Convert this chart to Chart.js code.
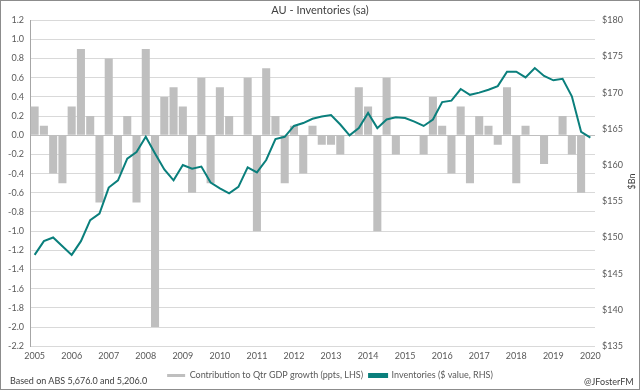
<!DOCTYPE html>
<html>
<head>
<meta charset="utf-8">
<script src="https://cdn.jsdelivr.net/npm/chart.js@4/dist/chart.umd.min.js"></script>
<style>
    html, body { margin: 0; padding: 0; background: #fff; }
    #wrap { position: relative; width: 640px; height: 390px; font-family: Lato, sans-serif; }
    #chart { position: absolute; left: 0; top: 0; }
    #frame { position: absolute; left: 0; top: 0; width: 640px; height: 390px; box-sizing: border-box; border: 1px solid #8c8c8c; pointer-events: none; }
    .note { position: absolute; font-size: 9px; color: #404040; white-space: nowrap; }
    #units { position: absolute; left: 621px; top: 176px; width: 20px; text-align: center; font-size: 9px; color: #404040; transform: rotate(-90deg); }
</style>
</head>
<body>
<div id="wrap">
    <canvas id="chart" width="640" height="390"></canvas>
    <div id="frame"></div>
    <div class="note" style="left:10px; top:375px;">Based on ABS 5,676.0 and 5,206.0</div>
    <div class="note" style="left:584px; top:376px;">@JFosterFM</div>
    <div id="units">$Bn</div>
</div>
<script>
// quarters, Mar-2005 .. Mar-2020
const years = ['2005', '2006', '2007', '2008', '2009', '2010', '2011', '2012', '2013', '2014',
    '2015', '2016', '2017', '2018', '2019', '2020'];
const quarters = [];
years.forEach(function (y) {
    ['Q1', 'Q2', 'Q3', 'Q4'].forEach(function (q) {
        if (y !== '2020' || q === 'Q1') quarters.push(y + q);
    });
});

// contribution to quarterly GDP growth, ppts (LHS)
const contribution = [
    0.3, 0.1, -0.4, -0.5, 0.3, 0.9, 0.2, -0.7, 0.8, -0.4, 0.2, -0.7,
    0.9, -2.0, 0.4, 0.5, 0.3, -0.6, 0.6, -0.5, 0.5, 0.2, 0, 0.6,
    -1.0, 0.7, 0.2, -0.5, 0.1, -0.4, 0.1, -0.1, -0.1, -0.2, 0, 0.5,
    0.3, -1.0, 0.6, -0.2, 0, 0, -0.2, 0.4, 0.1, -0.4, 0.3, -0.5,
    0.2, 0.1, -0.1, 0.5, -0.5, 0.1, 0, -0.3, 0, 0.2, -0.2, -0.6,
    null
];

// inventories, $bn (RHS)
const inventories = [
    147.6, 149.5, 150.0, 148.8, 147.6, 149.5, 152.4, 153.3, 156.9, 157.9, 160.9, 161.8,
    163.9, 161.6, 159.4, 157.9, 160.0, 159.5, 159.8, 157.6, 156.8, 156.1, 157.0, 159.7,
    159.0, 160.7, 163.6, 163.9, 165.4, 165.8, 166.4, 166.7, 166.9, 165.6, 164.1, 165.1,
    167.2, 165.1, 166.3, 166.6, 166.5, 166.0, 165.4, 166.3, 168.7, 168.9, 170.5, 169.7,
    170.0, 170.4, 170.9, 172.9, 172.9, 172.1, 173.4, 172.3, 171.7, 171.9, 169.5, 164.6,
    163.8
];

const textColor = '#595959';
const tickFont = { family: 'Lato', size: 9 };

// legend sits a little right of centre in the original
const legendShift = {
    id: 'legendShift',
    afterLayout: function (chart) {
        if (chart.legend) {
            chart.legend.left += 10;
            chart.legend.right += 10;
        }
    }
};

new Chart(document.getElementById('chart'), {
    type: 'bar',
    data: {
        labels: quarters,
        datasets: [{
            type: 'bar',
            label: 'Contribution to Qtr GDP growth (ppts, LHS)',
            data: contribution,
            backgroundColor: '#bfbfbf',
            borderWidth: 0,
            barPercentage: 0.87,
            categoryPercentage: 1.0,
            yAxisID: 'y',
            order: 2
        }, {
            type: 'line',
            label: 'Inventories ($ value, RHS)',
            data: inventories,
            borderColor: '#0a7f7c',
            backgroundColor: '#0a7f7c',
            borderWidth: 2,
            pointRadius: 0,
            tension: 0,
            yAxisID: 'y1',
            order: 1
        }]
    },
    plugins: [legendShift],
    options: {
        responsive: false,
        animation: false,
        layout: { padding: 0 },
        plugins: {
            title: {
                display: true,
                text: 'AU - Inventories (sa)',
                color: '#404040',
                font: { family: 'Lato', size: 11, weight: 'normal' },
                padding: { top: 4, bottom: 3 }
            },
            legend: {
                position: 'bottom',
                labels: {
                    color: textColor,
                    font: tickFont,
                    boxWidth: 18,
                    boxHeight: 3,
                    padding: 6,
                    sort: function (a, b) { return a.datasetIndex - b.datasetIndex; }
                }
            },
            tooltip: { enabled: false }
        },
        scales: {
            x: {
                grid: { display: false, drawTicks: false },
                border: { display: false },
                ticks: {
                    color: textColor,
                    font: tickFont,
                    padding: 4,
                    autoSkip: false,
                    maxRotation: 0,
                    callback: function (value, index) {
                        let q = quarters[index];
                        return q.endsWith('Q1') ? q.slice(0, 4) : '';
                    }
                }
            },
            y: {
                position: 'left',
                min: -2.2,
                max: 1.2,
                afterFit: function (scale) { scale.width = 30; },
                grid: {
                    color: function (ctx) { return ctx.tick && Math.abs(ctx.tick.value) < 1e-9 ? '#bfbfbf' : '#d9d9d9'; },
                    drawTicks: false
                },
                border: { display: true, color: '#a6a6a6' },
                ticks: {
                    stepSize: 0.2,
                    color: textColor,
                    font: tickFont,
                    padding: 6,
                    callback: function (v) { return v.toFixed(1); }
                }
            },
            y1: {
                position: 'right',
                min: 135,
                max: 180,
                afterFit: function (scale) { scale.width = 45; },
                grid: { display: false, drawTicks: false },
                border: { display: false },
                ticks: {
                    stepSize: 5,
                    color: textColor,
                    font: tickFont,
                    padding: 7,
                    callback: function (v) { return '$' + v; }
                }
            }
        }
    }
});
</script>
</body>
</html>
